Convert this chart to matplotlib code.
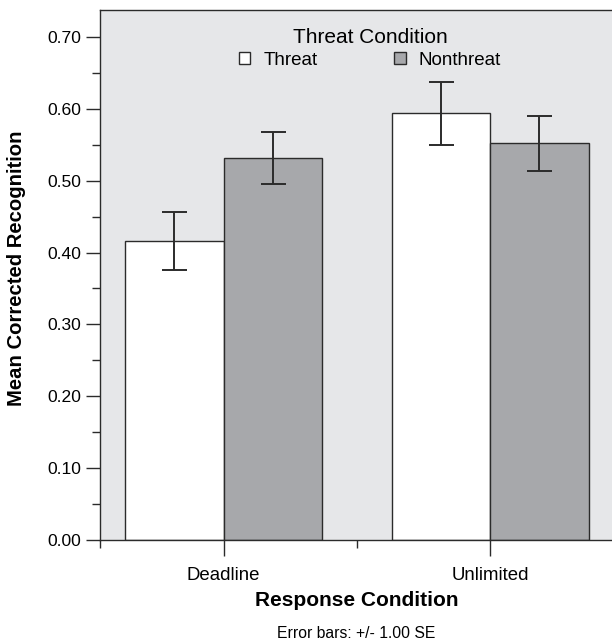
import numpy as np
import matplotlib.pyplot as plt
from matplotlib.ticker import MultipleLocator, FixedLocator, NullFormatter

plt.rcParams["font.family"] = ["Liberation Sans", "DejaVu Sans"]

# dados
condicoes = ["Deadline", "Unlimited"]
media_threat = [0.416, 0.594]
media_nonthreat = [0.532, 0.552]
se_threat = [0.040, 0.044]
se_nonthreat = [0.036, 0.0385]

COR_FUNDO = "#e6e7e9"
COR_CINZA = "#a7a8ab"
COR_LINHA = "#2b2b2b"

fig = plt.figure(figsize=(6.12, 6.41), dpi=100)
ax = fig.add_axes([99.5 / 612, 1 - 540 / 641, 1 - 99.5 / 612, 530 / 641])
ax.set_facecolor(COR_FUNDO)

x = np.arange(len(condicoes))
largura = 0.37

ax.bar(x - largura / 2, media_threat, largura, color="white", edgecolor=COR_LINHA,
       linewidth=1.0, label="Threat", zorder=2)
ax.bar(x + largura / 2, media_nonthreat, largura, color=COR_CINZA, edgecolor=COR_LINHA,
       linewidth=1.0, label="Nonthreat", zorder=2)
ax.errorbar(x - largura / 2, media_threat, yerr=se_threat, fmt="none", ecolor=COR_LINHA,
            elinewidth=1.4, capsize=9, capthick=1.4, zorder=3)
ax.errorbar(x + largura / 2, media_nonthreat, yerr=se_nonthreat, fmt="none", ecolor=COR_LINHA,
            elinewidth=1.4, capsize=9, capthick=1.4, zorder=3)

ax.set_xlim(-0.4655, 1.457)
ax.set_ylim(0, 0.7375)

ax.yaxis.set_major_locator(MultipleLocator(0.10))
ax.yaxis.set_minor_locator(MultipleLocator(0.05))
ax.yaxis.set_major_formatter(lambda v, p: f"{v:.2f}")
ax.tick_params(axis="y", which="major", length=10, width=1, color=COR_LINHA,
               labelsize=12.6, pad=3)
ax.tick_params(axis="y", which="minor", length=6, width=1, color=COR_LINHA)

ax.set_xticks(x)
ax.set_xticklabels(condicoes)
ax.xaxis.set_minor_locator(FixedLocator([-0.4655, 0.5]))
ax.xaxis.set_minor_formatter(NullFormatter())
ax.tick_params(axis="x", which="major", length=11.3, width=1, color=COR_LINHA,
               labelsize=13.4, pad=8)
ax.tick_params(axis="x", which="minor", length=6, width=1, color=COR_LINHA)

for lado in ["left", "bottom", "top"]:
    ax.spines[lado].set_color(COR_LINHA)
    ax.spines[lado].set_linewidth(1)
ax.spines["right"].set_visible(False)

ax.set_ylabel("Mean Corrected Recognition", fontsize=14.6, fontweight="bold")
ax.yaxis.set_label_coords(-(99.5 - 17) / 512.5, (540 - 268) / 530)
ax.yaxis.label.set_va("center")
ax.set_xlabel("Response Condition", fontsize=15, fontweight="bold")
ax.xaxis.set_label_coords((357 - 99.5) / 512.5, -(601 - 540) / 530)
ax.xaxis.label.set_va("center")

leg = ax.legend(title="Threat Condition", ncol=2, frameon=False, loc="upper center",
                bbox_to_anchor=((370 - 99.5) / 512.5, 1.0), fontsize=13.5,
                title_fontsize=15, handlelength=0.6, handleheight=0.6,
                columnspacing=4.1, handletextpad=0.7, borderaxespad=0.56)
leg._legend_box.sep = 3.5

fig.text(356 / 612, 1 - 633 / 641, "Error bars: +/- 1.00 SE", ha="center", va="center",
         fontsize=11.3)

fig.savefig("out.png", dpi=100)
